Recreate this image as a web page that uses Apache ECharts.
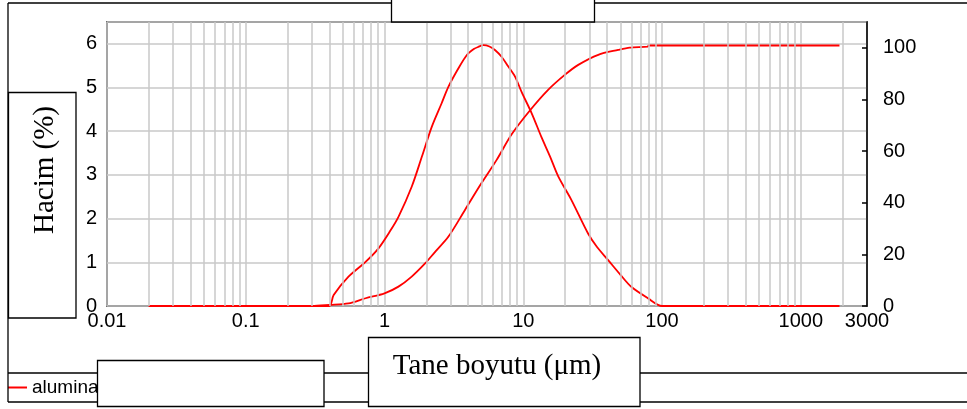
<!DOCTYPE html>
<html>
<head>
<meta charset="utf-8">
<script src="https://cdn.jsdelivr.net/npm/echarts@6/dist/echarts.min.js"></script>
<style>
html,body{margin:0;padding:0;background:#fff;}
#chart{width:967px;height:409px;}
</style>
</head>
<body>
<div id="chart"></div>
<script>
// ---- data ----
const freqSizes  = [0.02, 0.1, 0.3, 0.4, 0.43, 0.55, 0.73, 0.905, 1.1, 1.26, 1.57, 1.86, 2.19, 2.58, 2.89, 3.41, 3.91, 4.4, 4.74, 5.16, 5.7, 6.25, 7.0, 7.8, 8.72, 9.72, 11.5, 13.5, 15.6, 17.9, 22.2, 29.3, 34, 40.9, 50, 60, 79, 100, 1900];
const freqValues = [0, 0, 0, 0, 0.25, 0.67, 1.01, 1.32, 1.72, 2.04, 2.73, 3.42, 4.10, 4.64, 5.02, 5.44, 5.74, 5.88, 5.93, 5.97, 5.94, 5.86, 5.70, 5.48, 5.25, 4.90, 4.41, 3.87, 3.42, 2.96, 2.43, 1.66, 1.35, 1.05, 0.72, 0.44, 0.18, 0, 0];
const cumSizes   = [0.02, 0.1, 0.3, 0.4, 0.55, 0.73, 1.0, 1.26, 1.57, 1.96, 2.3, 2.89, 3.8, 5.0, 6.43, 8.25, 11.2, 15.1, 19.9, 24.9, 34.7, 48.3, 58.5, 79, 80, 1900];
const cumValues  = [0, 0, 0, 0.4, 1, 3, 4.9, 7.5, 11.4, 16.5, 20.8, 26.9, 37.2, 47.6, 56.6, 66.5, 75.8, 83.7, 89.5, 93.4, 97.3, 99.2, 100.1, 100.5, 100.9, 100.9];
const xTickLabels = ['0.01', '0.1', '1', '10', '100', '1000', '3000'];
const seriesName = 'alumina';
const xTitle = 'Tane boyutu (\u03bcm)';
const yTitle = 'Hacim (%)';

// minor log grid positions (2..9 within each decade)
const minorGrid = [];
for (let e = -2; e <= 3; e++) {
  for (let m = 2; m <= 9; m++) {
    const v = m * Math.pow(10, e);
    if (v < 3000) minorGrid.push(v);
  }
}

const RED = '#ff0000';
const GRID = '#c8c8c8';
const SANS = "'Liberation Sans',Arial,sans-serif";
const SERIF = "'Liberation Serif','Times New Roman',serif";

const chart = echarts.init(document.getElementById('chart'), null, {renderer: 'canvas'});

function xLabel(v) {
  const lv = Math.log10(v);
  let best = xTickLabels[0], bd = Infinity;
  xTickLabels.forEach(l => {
    const d = Math.abs(Math.log10(parseFloat(l)) - lv);
    if (d < bd) { bd = d; best = l; }
  });
  return best;
}

const option = {
  animation: false,
  backgroundColor: '#fff',
  tooltip: {show: false},
  grid: {
    left: 107, right: 100, top: 22, bottom: 103,
    show: true, borderColor: '#000', borderWidth: 1.5, backgroundColor: 'transparent'
  },
  legend: {
    data: [seriesName],
    left: 8, top: 378, padding: 0,
    icon: 'rect', itemWidth: 19, itemHeight: 2,
    selectedMode: false,
    textStyle: {fontFamily: SANS, fontSize: 19, color: '#000'}
  },
  xAxis: {
    type: 'log', logBase: 10, min: 0.01, max: 3000,
    axisLine: {show: false},
    axisTick: {show: false},
    axisLabel: {
      color: '#000', fontFamily: SANS, fontSize: 20, margin: 5,
      formatter: xLabel, showMinLabel: true, showMaxLabel: true, hideOverlap: false
    },
    splitLine: {show: true, lineStyle: {color: GRID, width: 1.5}},
    minorTick: {show: false},
    minorSplitLine: {show: false}
  },
  yAxis: [
    {
      type: 'value', min: 0, max: 6.5, interval: 1, position: 'left',
      axisLine: {show: false}, axisTick: {show: false},
      axisLabel: {color: '#000', fontFamily: SANS, fontSize: 20, margin: 10, showMaxLabel: false},
      splitLine: {show: true, lineStyle: {color: GRID, width: 1.5}}
    },
    {
      type: 'value', min: 0, max: 110, interval: 20, position: 'right',
      axisLine: {show: true, lineStyle: {color: '#000', width: 1.5}},
      axisTick: {show: true, inside: true, length: 5, lineStyle: {color: '#000', width: 1.5}},
      axisLabel: {color: '#000', fontFamily: SANS, fontSize: 20, margin: 16, showMaxLabel: false},
      splitLine: {show: false}
    }
  ],
  series: [
    {
      name: '_grid', type: 'line', z: 1, silent: true,
      data: [[0.02, 0]], showSymbol: false, lineStyle: {opacity: 0},
      markLine: {
        silent: true, symbol: 'none', animation: false,
        label: {show: false},
        lineStyle: {color: GRID, width: 1.5, type: 'solid'},
        emphasis: {disabled: true},
        data: minorGrid.map(v => ({xAxis: v}))
      }
    },
    {
      name: seriesName, type: 'line', yAxisIndex: 0, z: 3,
      data: freqSizes.map((s, i) => [s, freqValues[i]]),
      showSymbol: false, smooth: 0.3,
      lineStyle: {color: RED, width: 1.8, join: 'round'}, itemStyle: {color: RED},
      emphasis: {disabled: true}
    },
    {
      name: seriesName + ' (k\u00fcm\u00fclatif)', type: 'line', yAxisIndex: 1, z: 3,
      data: cumSizes.map((s, i) => [s, cumValues[i]]),
      showSymbol: false, smooth: 0.3,
      lineStyle: {color: RED, width: 1.8, join: 'round'}, itemStyle: {color: RED},
      emphasis: {disabled: true}
    }
  ],
  graphic: [
    // outer frame
    {type: 'line', z: 50, silent: true, shape: {x1: 8, y1: 3, x2: 967, y2: 3}, style: {stroke: '#000', lineWidth: 1.3}},
    {type: 'line', z: 50, silent: true, shape: {x1: 8, y1: 3, x2: 8, y2: 402}, style: {stroke: '#000', lineWidth: 1.3}},
    {type: 'line', z: 50, silent: true, shape: {x1: 8, y1: 402, x2: 967, y2: 402}, style: {stroke: '#000', lineWidth: 1.3}},
    {type: 'line', z: 50, silent: true, shape: {x1: 8, y1: 373, x2: 967, y2: 373}, style: {stroke: '#000', lineWidth: 1.3}},
    // top empty box
    {type: 'rect', z: 60, silent: true, shape: {x: 391.5, y: -2, width: 203, height: 24}, style: {fill: '#fff', stroke: '#000', lineWidth: 1.3}},
    // y title box
    {type: 'rect', z: 60, silent: true, shape: {x: 8.5, y: 92.5, width: 67.5, height: 225.5}, style: {fill: '#fff', stroke: '#000', lineWidth: 1.3}},
    {type: 'text', z: 61, silent: true, x: 45, y: 170, rotation: Math.PI / 2,
      style: {text: yTitle, font: '29px ' + SERIF, fontSize: 29, fontFamily: SERIF, fill: '#000',
        textAlign: 'center', textVerticalAlign: 'middle', align: 'center', verticalAlign: 'middle'}},
    // bottom empty box
    {type: 'rect', z: 60, silent: true, shape: {x: 97.5, y: 360.5, width: 226.5, height: 46}, style: {fill: '#fff', stroke: '#000', lineWidth: 1.3}},
    // x title box
    {type: 'rect', z: 60, silent: true, shape: {x: 368.5, y: 337.5, width: 271.5, height: 69}, style: {fill: '#fff', stroke: '#000', lineWidth: 1.3}},
    {type: 'text', z: 61, silent: true, x: 497, y: 366,
      style: {text: xTitle, font: '29px ' + SERIF, fontSize: 29, fontFamily: SERIF, fill: '#000',
        textAlign: 'center', textVerticalAlign: 'middle', align: 'center', verticalAlign: 'middle'}}
  ]
};
chart.setOption(option);
</script>
</body>
</html>
